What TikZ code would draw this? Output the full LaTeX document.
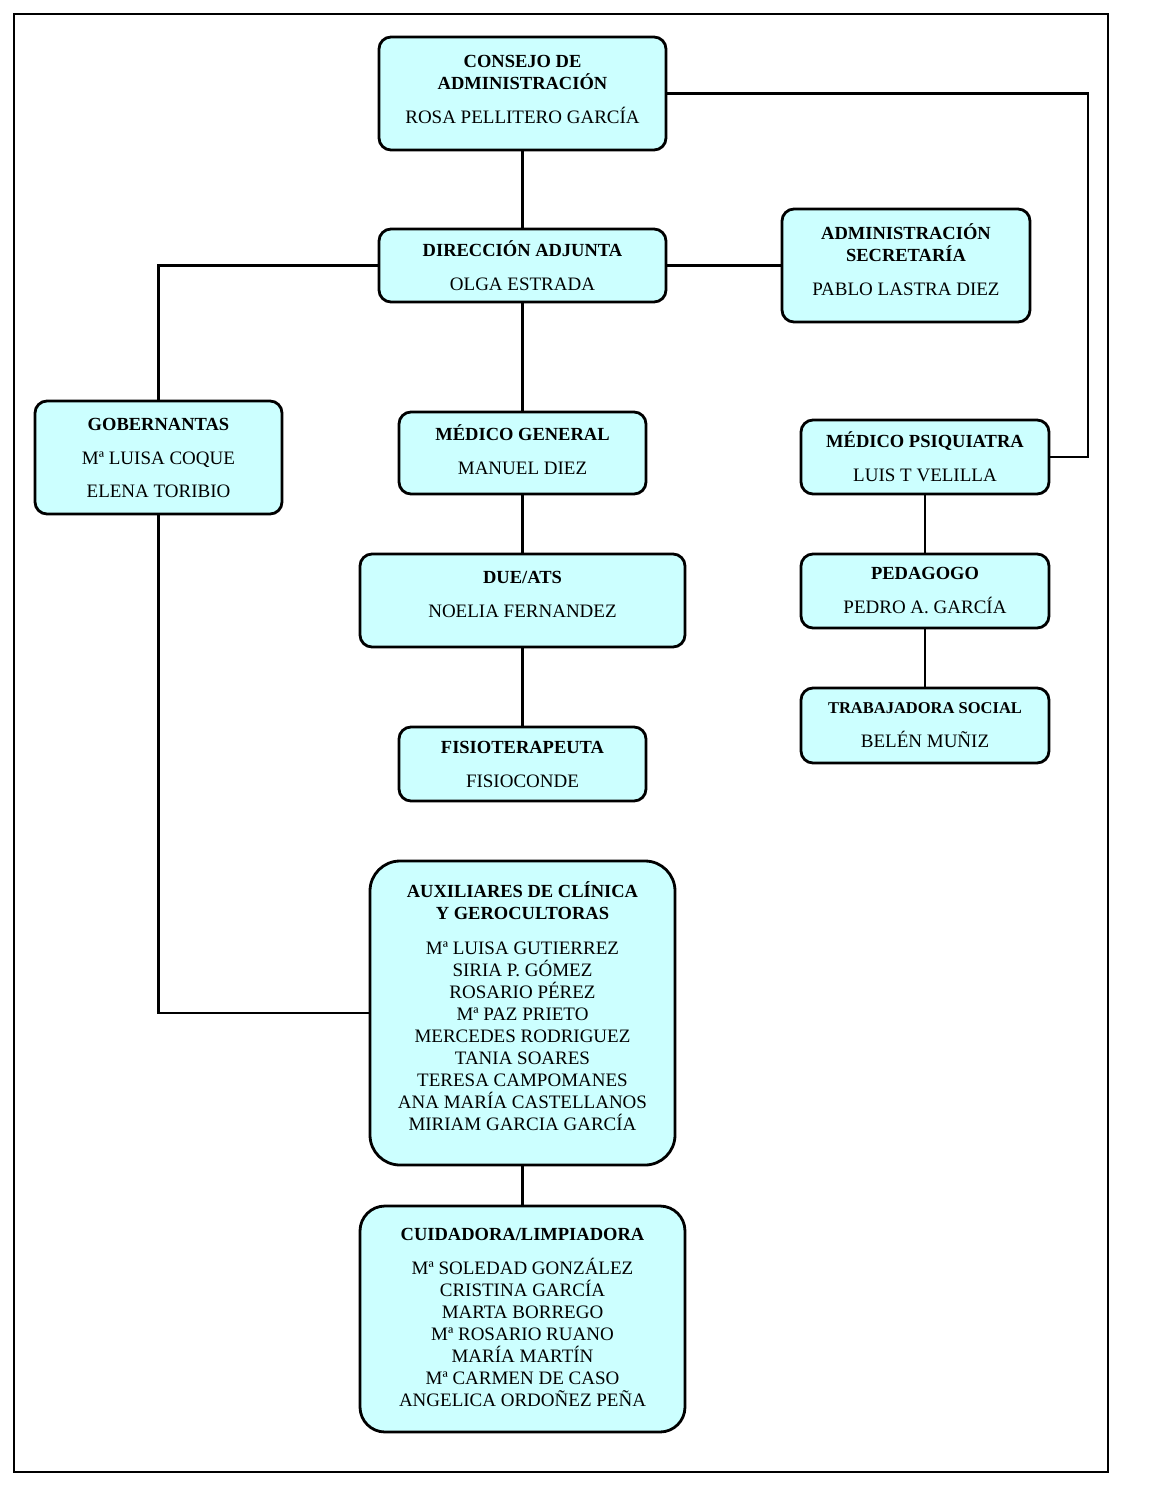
\documentclass[tikz,border=0pt]{standalone}
\usepackage{fontspec}
\setmainfont{Liberation Serif}
\definecolor{boxcyan}{RGB}{204,255,255}
\newcommand{\ttl}[1]{{\fontsize{18.5}{22}\selectfont\bfseries #1}}
\begin{document}
\begin{tikzpicture}[x=1pt,y=-1pt,line width=2.8pt,
    box/.style={draw,fill=boxcyan,rounded corners=12pt,align=center,inner sep=0pt,
        font=\fontsize{19}{22}\selectfont}]
    \useasboundingbox (0,0) rectangle (1170,1486);
    \draw [line width=2.8pt] (14,14) rectangle (1108,1472);
    \node [box,text depth=8pt,minimum width=287pt,minimum height=113pt] (consejo) at (522.5,93.5)
        {\ttl{CONSEJO DE}\\\ttl{ADMINISTRACIÓN}\\[12pt]ROSA PELLITERO GARCÍA};
    \node [box,minimum width=287pt,minimum height=73pt] (direccion) at (522.5,265.5)
        {\ttl{DIRECCIÓN ADJUNTA}\\[12pt]OLGA ESTRADA};
    \node [box,text depth=12pt,minimum width=248pt,minimum height=113pt] (admin) at (906,265.5)
        {\ttl{ADMINISTRACIÓN}\\\ttl{SECRETARÍA}\\[12pt]PABLO LASTRA DIEZ};
    \node [box,minimum width=247pt,minimum height=113pt] (gobern) at (158.5,457.5)
        {\ttl{GOBERNANTAS}\\[12pt]Mª LUISA COQUE\\[11pt]ELENA TORIBIO};
    \node [box,text depth=6pt,minimum width=247pt,minimum height=82pt] (medgen) at (522.5,453)
        {\ttl{MÉDICO GENERAL}\\[12pt]MANUEL DIEZ};
    \node [box,minimum width=248pt,minimum height=74pt] (psiq) at (925,457)
        {\ttl{MÉDICO PSIQUIATRA}\\[12pt]LUIS T VELILLA};
    \node [box,text depth=12pt,minimum width=325pt,minimum height=93pt] (due) at (522.5,600.5)
        {\ttl{DUE/ATS}\\[12pt]NOELIA FERNANDEZ};
    \node [box,minimum width=248pt,minimum height=74pt] (pedag) at (925,591)
        {\ttl{PEDAGOGO}\\[12pt]PEDRO A. GARCÍA};
    \node [box,minimum width=247pt,minimum height=74pt] (fisio) at (522.5,764)
        {\ttl{FISIOTERAPEUTA}\\[12pt]FISIOCONDE};
    \node [box,minimum width=248pt,minimum height=75pt] (trabsoc) at (925,725.5)
        {{\fontsize{16.5}{22}\selectfont\bfseries TRABAJADORA SOCIAL}\\[12pt]BELÉN MUÑIZ};
    \node [box,text depth=14pt,rounded corners=30pt,minimum width=305pt,minimum height=304pt] (aux) at (522.5,1013)
        {\ttl{AUXILIARES DE CLÍNICA}\\\ttl{Y GEROCULTORAS}\\[13pt]Mª LUISA GUTIERREZ\\SIRIA P. GÓMEZ\\
         ROSARIO PÉREZ\\Mª PAZ PRIETO\\MERCEDES RODRIGUEZ\\TANIA SOARES\\TERESA CAMPOMANES\\
         ANA MARÍA CASTELLANOS\\MIRIAM GARCIA GARCÍA};
    \node [box,text depth=4pt,rounded corners=25pt,minimum width=325pt,minimum height=226pt] (cuid) at (522.5,1319)
        {\ttl{CUIDADORA/LIMPIADORA}\\[12pt]Mª SOLEDAD GONZÁLEZ\\CRISTINA GARCÍA\\MARTA BORREGO\\
         Mª ROSARIO RUANO\\MARÍA MARTÍN\\Mª CARMEN DE CASO\\ANGELICA ORDOÑEZ PEÑA};
    \coordinate (turn) at (1088,93.5);
    % connectors
    \draw (consejo) -- (direccion);
    \draw (consejo.east) -- (turn) |- (psiq.east);
    \draw (direccion.west) -| (gobern.north);
    \draw (direccion) -- (admin);
    \draw (direccion) -- (medgen);
    \draw (medgen) -- (due);
    \draw (due) -- (fisio);
    \draw (psiq) -- (pedag);
    \draw (pedag) -- (trabsoc);
    \draw (gobern.south) |- (aux.west);
    \draw (aux) -- (cuid);
\end{tikzpicture}
\end{document}
